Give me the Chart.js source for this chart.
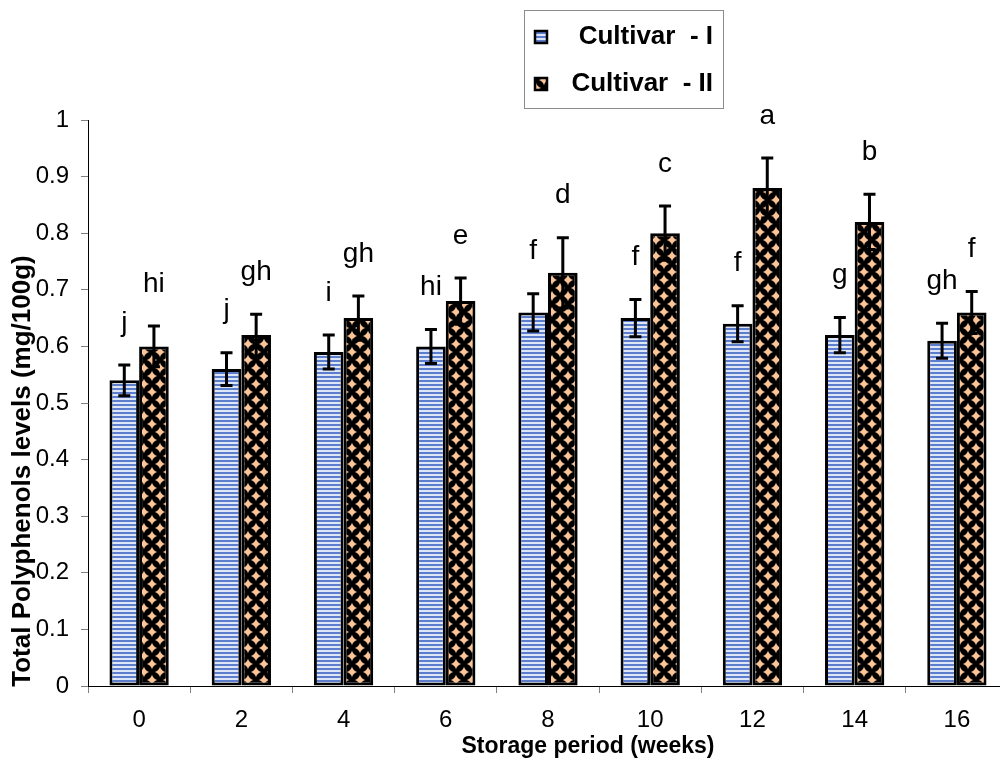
<!DOCTYPE html>
<html>
<head>
<meta charset="utf-8">
<script src="https://cdn.jsdelivr.net/npm/chart.js@4.4.1/dist/chart.umd.min.js"></script>
<style>
html, body { margin: 0; padding: 0; background: #fff; overflow: hidden; }
#wrap { width: 1012px; height: 769px; }
</style>
</head>
<body>
<div id="wrap"><canvas id="chart" width="1012" height="769"></canvas></div>
<script>
// Dati
const weeks = ['0', '2', '4', '6', '8', '10', '12', '14', '16'];
const cultivar1 = [0.54, 0.56, 0.59, 0.60, 0.66, 0.65, 0.64, 0.62, 0.61];
const cultivar2 = [0.60, 0.62, 0.65, 0.68, 0.73, 0.80, 0.88, 0.82, 0.66];
const cultivar1Err = [0.027, 0.029, 0.030, 0.030, 0.033, 0.033, 0.032, 0.031, 0.031];
const cultivar2Err = [0.036, 0.037, 0.039, 0.041, 0.062, 0.048, 0.053, 0.049, 0.037];
const cultivar1Letters = ['j', 'j', 'i', 'hi', 'f', 'f', 'f', 'g', 'gh'];
const cultivar2Letters = ['hi', 'gh', 'gh', 'e', 'd', 'c', 'a', 'b', 'f'];
const seriesNames = ['Cultivar  - I', 'Cultivar  - II'];

const FONT = "'Liberation Sans', Arial, sans-serif";

// Motivo a righe orizzontali (Cultivar I)
function stripePattern() {
    const c = document.createElement('canvas');
    c.width = 4; c.height = 4;
    const g = c.getContext('2d');
    g.fillStyle = '#dde6f7';
    g.fillRect(0, 0, 4, 4);
    g.fillStyle = '#5b7dcb';
    g.fillRect(0, 0, 4, 2);
    return g.createPattern(c, 'repeat');
}

// Motivo a rombi (Cultivar II)
function diamondPattern() {
    const s = 16;
    const c = document.createElement('canvas');
    c.width = s; c.height = s;
    const g = c.getContext('2d');
    g.fillStyle = '#000';
    g.fillRect(0, 0, s, s);
    g.fillStyle = '#fac496';
    const d = 5.2;
    const centers = [[s / 2, s / 2], [0, 0], [s, 0], [0, s], [s, s]];
    centers.forEach(([cx, cy]) => {
        g.beginPath();
        g.moveTo(cx, cy - d);
        g.quadraticCurveTo(cx + 1.2, cy - 1.2, cx + d, cy);
        g.quadraticCurveTo(cx + 1.2, cy + 1.2, cx, cy + d);
        g.quadraticCurveTo(cx - 1.2, cy + 1.2, cx - d, cy);
        g.quadraticCurveTo(cx - 1.2, cy - 1.2, cx, cy - d);
        g.closePath();
        g.fill();
    });
    return g.createPattern(c, 'repeat');
}

const fill1 = stripePattern();
const fill2 = diamondPattern();

const errors = [cultivar1Err, cultivar2Err];
const letters = [cultivar1Letters, cultivar2Letters];

// Barre di errore e lettere di significatività
const errorBarsPlugin = {
    id: 'errorBars',
    afterDatasetsDraw(chart) {
        const ctx = chart.ctx;
        const y = chart.scales.y;
        ctx.save();
        chart.data.datasets.forEach((ds, di) => {
            const meta = chart.getDatasetMeta(di);
            meta.data.forEach((bar, i) => {
                const v = ds.data[i];
                const e = errors[di][i];
                const top = y.getPixelForValue(v + e);
                const bot = y.getPixelForValue(v - e);
                ctx.strokeStyle = '#000';
                ctx.lineWidth = 3;
                ctx.beginPath();
                ctx.moveTo(bar.x, top);
                ctx.lineTo(bar.x, bot);
                ctx.moveTo(bar.x - 6, top);
                ctx.lineTo(bar.x + 6, top);
                ctx.moveTo(bar.x - 6, bot);
                ctx.lineTo(bar.x + 6, bot);
                ctx.stroke();

                ctx.fillStyle = '#000';
                ctx.font = '28px ' + FONT;
                ctx.textAlign = 'center';
                ctx.textBaseline = 'middle';
                ctx.fillText(letters[di][i], bar.x, top - 42);
            });
        });
        ctx.restore();
    }
};

// Legenda, titoli degli assi
const decorPlugin = {
    id: 'decor',
    afterDraw(chart) {
        const ctx = chart.ctx;
        ctx.save();

        // riquadro legenda
        ctx.strokeStyle = '#8c8c8c';
        ctx.lineWidth = 1;
        ctx.strokeRect(524.5, 10.5, 199, 98);
        const rows = [37, 84];
        chart.data.datasets.forEach((ds, i) => {
            ctx.fillStyle = ds.backgroundColor;
            ctx.fillRect(535, rows[i] - 6, 12, 12);
            ctx.strokeStyle = '#000';
            ctx.lineWidth = 2.5;
            ctx.strokeRect(535, rows[i] - 6, 12, 12);
            ctx.fillStyle = '#000';
            ctx.font = 'bold 26px ' + FONT;
            ctx.textAlign = 'right';
            ctx.textBaseline = 'middle';
            ctx.fillText(ds.label, 713, rows[i]);
        });

        // titoli assi
        ctx.fillStyle = '#000';
        ctx.font = 'bold 23px ' + FONT;
        ctx.textAlign = 'center';
        ctx.textBaseline = 'middle';
        ctx.fillText('Storage period (weeks)', 588, 747);
        ctx.font = 'bold 26px ' + FONT;
        ctx.translate(23, 471);
        ctx.rotate(-Math.PI / 2);
        ctx.fillText('Total Polyphenols levels (mg/100g)', 0, 0);
        ctx.restore();
    }
};

const config = {
    type: 'bar',
    data: {
        labels: weeks,
        datasets: [{
            label: seriesNames[0],
            data: cultivar1,
            backgroundColor: fill1,
            borderColor: '#000',
            borderWidth: 3,
            borderSkipped: false
        }, {
            label: seriesNames[1],
            data: cultivar2,
            backgroundColor: fill2,
            borderColor: '#000',
            borderWidth: 3,
            borderSkipped: false
        }]
    },
    options: {
        responsive: false,
        animation: false,
        categoryPercentage: 0.58,
        barPercentage: 1.0,
        layout: { padding: { top: 120, right: 4, left: 0, bottom: 0 } },
        plugins: {
            legend: { display: false },
            tooltip: { enabled: false }
        },
        scales: {
            x: {
                grid: {
                    display: true,
                    drawOnChartArea: false,
                    drawTicks: true,
                    tickLength: 7,
                    color: '#808080',
                    offset: true
                },
                border: { display: true, color: '#000', width: 1 },
                ticks: {
                    color: '#000',
                    font: { family: FONT, size: 24 },
                    padding: 13,
                    maxRotation: 0
                },
                afterFit(scale) { scale.height = 83; }
            },
            y: {
                min: 0,
                max: 1,
                grid: {
                    display: true,
                    drawOnChartArea: false,
                    drawTicks: true,
                    tickLength: 7,
                    color: '#808080'
                },
                border: { display: true, color: '#000', width: 1 },
                ticks: {
                    stepSize: 0.1,
                    color: '#000',
                    font: { family: FONT, size: 24 },
                    padding: 12,
                    callback: v => String(Number(v.toFixed(1)))
                },
                afterFit(scale) { scale.width = 88; }
            }
        }
    },
    plugins: [errorBarsPlugin, decorPlugin]
};

document.addEventListener('DOMContentLoaded', () => {
    new Chart(document.getElementById('chart').getContext('2d'), config);
});
</script>
</body>
</html>
